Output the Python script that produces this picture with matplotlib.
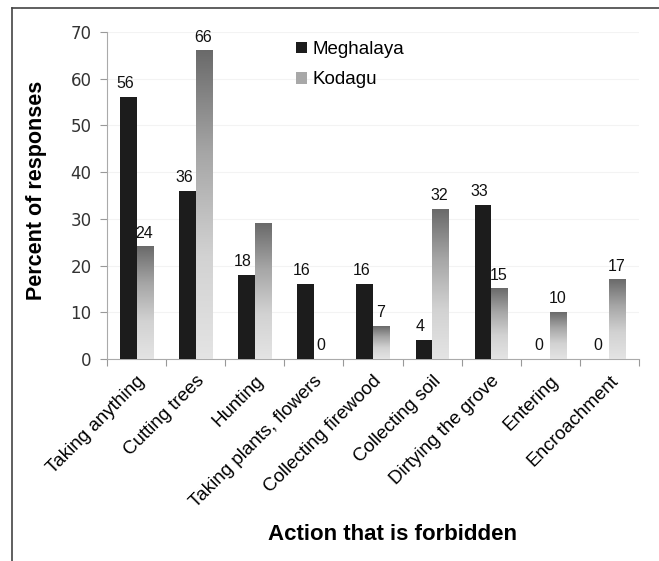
import matplotlib.pyplot as plt
import numpy as np
from matplotlib.patches import Patch
from matplotlib.lines import Line2D
from matplotlib.colors import LinearSegmentedColormap

plt.rcParams['font.family'] = ['Liberation Sans', 'DejaVu Sans']

actions = ["Taking anything", "Cutting trees", "Hunting", "Taking plants, flowers",
           "Collecting firewood", "Collecting soil", "Dirtying the grove",
           "Entering", "Encroachment"]
meghalaya = [56, 36, 18, 16, 16, 4, 33, 0, 0]
kodagu = [24, 66, 29, 0, 7, 32, 15, 10, 17]
# the Hunting label for Kodagu is hidden in the original
kodagu_labels = ["24", "66", "", "0", "7", "32", "15", "10", "17"]

fig = plt.figure(figsize=(6.59, 5.61), dpi=100)
ax = fig.add_axes([0.1624, 0.360, 0.8073, 0.583])

x = np.arange(len(actions))
w = 0.28

ax.bar(x - w / 2, meghalaya, width=w, color='#1c1c1c', zorder=3)

# kodagu bars: gradient, light at the bottom and dark at the top
kcmap = LinearSegmentedColormap.from_list('kod', ['#e4e4e4', '#d2d2d2', '#a6a6a6', '#6a6a6a'])
grad = np.linspace(0, 1, 256).reshape(-1, 1)
for xi, v in zip(x, kodagu):
    if v <= 0:
        continue
    ax.imshow(grad, extent=(xi, xi + w, 0, v), origin='lower', cmap=kcmap,
              aspect='auto', zorder=3)

for xi, v in zip(x, meghalaya):
    ax.text(xi - w / 2 - 0.06, v + 2.9, str(v), ha='center', va='center',
            fontsize=11.5, color='#111111', zorder=4)
for xi, v, s in zip(x, kodagu, kodagu_labels):
    ax.text(xi + w / 2 - 0.02, v + 2.9, s, ha='center', va='center',
            fontsize=11.5, color='#111111', zorder=4)

ax.set_xlim(-0.5, len(actions) - 0.5)
ax.set_ylim(0, 70)
ax.set_yticks(range(0, 71, 10))
ax.set_yticklabels([str(v) for v in range(0, 71, 10)], family='DejaVu Sans')
ax.tick_params(axis='y', labelsize=12, colors='#999999', labelcolor='#333333',
               length=5, width=0.8, pad=6)
ax.yaxis.grid(True, color='#f3f3f3', linewidth=0.8, zorder=0)

ax.set_xticks(np.arange(-0.5, len(actions), 1.0))
ax.set_xticklabels([])
ax.set_xticks(x + 0.1, minor=True)
ax.set_xticklabels(actions, minor=True, rotation=45, ha='right', va='center',
                   rotation_mode='anchor', fontsize=13.5)
ax.tick_params(axis='x', which='major', length=5, width=0.8, colors='#999999')
ax.tick_params(axis='x', which='minor', length=0, pad=14)

for side in ['top', 'right']:
    ax.spines[side].set_visible(False)
ax.spines['left'].set_color('#aaaaaa')
ax.spines['bottom'].set_color('#aaaaaa')

ax.set_ylabel('Percent of responses', fontsize=15.5, fontweight='bold')
ax.yaxis.set_label_coords(-0.113, 0.517)
ax.set_xlabel('Action that is forbidden', fontsize=16, fontweight='bold')
ax.xaxis.set_label_coords(0.536, -0.505)

handles = [Patch(facecolor='#1c1c1c', label='Meghalaya'),
           Patch(facecolor='#a8a8a8', label='Kodagu')]
fig.legend(handles=handles, loc='upper left', bbox_to_anchor=(0.424, 0.957),
           frameon=False, fontsize=13.5, handlelength=0.55, handleheight=0.55,
           handletextpad=0.3, labelspacing=0.72)

# frame lines of the original figure
fig.add_artist(Line2D([0.018, 0.018], [0.0, 0.986], color='#444444', linewidth=1.2))
fig.add_artist(Line2D([0.018, 1.0], [0.986, 0.986], color='#444444', linewidth=1.2))

fig.savefig('out.png', dpi=100)
